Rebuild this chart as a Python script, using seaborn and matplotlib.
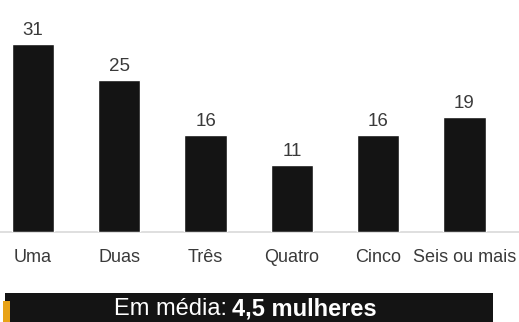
import matplotlib
matplotlib.use("Agg")
import matplotlib.pyplot as plt
import seaborn as sns
import pandas as pd
from matplotlib.patches import Rectangle

categories = ["Uma", "Duas", "Três", "Quatro", "Cinco", "Seis ou mais"]
values = [31, 25, 16, 11, 16, 19]
banner_plain = "Em média:"
banner_bold = "4,5 mulheres"

sns.set_theme(style="white")
plt.rcParams['font.family'] = ['Liberation Sans', 'DejaVu Sans']

df = pd.DataFrame({"cat": categories, "val": values})

W, H = 519, 322
fig = plt.figure(figsize=(W / 100, H / 100), dpi=100)
fig.patch.set_facecolor("white")
ax = fig.add_axes([0, (H - 232) / H, 1, 232 / H])

sns.barplot(data=df, x="cat", y="val", color="#141414", width=0.49,
            saturation=1, ax=ax)
ax.set_xlim(-0.382, 5.632)
ax.set_ylim(0, 232 / 6.07)
for s in ax.spines.values():
    s.set_visible(False)
ax.axhline(0, color="#d9d9d9", lw=1.2, zorder=0, clip_on=False)
ax.set_xlabel("")
ax.set_ylabel("")
ax.set_yticks([])
ax.tick_params(axis="x", length=0, pad=12, labelsize=13, labelcolor="#3a3a3a")

for i, v in enumerate(values):
    ax.text(i, v + 1.5, str(v), ha="center", va="baseline", fontsize=13.5,
            color="#3a3a3a")

# banner
fig.patches.append(Rectangle((5 / W, 0), 488 / W, 29 / H, transform=fig.transFigure,
                             facecolor="#141414", edgecolor="none"))
fig.patches.append(Rectangle((3 / W, 0), 7 / W, 21 / H, transform=fig.transFigure,
                             facecolor="#E8A317", edgecolor="none"))
t1 = fig.text(114 / W, 13 / H, banner_plain, ha="left", va="center", fontsize=17,
              color="white")
fig.canvas.draw()
bb = t1.get_window_extent()
fig.text((bb.x1 + 5) / W, 13 / H, banner_bold, ha="left", va="center", fontsize=17,
         color="white", fontweight="bold")

fig.savefig("out.png", dpi=100)
